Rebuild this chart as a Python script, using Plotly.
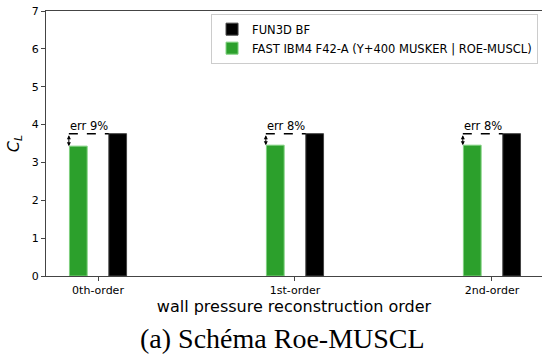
import plotly.graph_objects as go

# données
orders = ['0th-order', '1st-order', '2nd-order']
cl_fun3d = [3.76, 3.76, 3.76]
cl_fast = [3.43, 3.455, 3.455]

name_fun3d = 'FUN3D BF'
name_fast = 'FAST IBM4 F42-A (Y+400 MUSKER | ROE-MUSCL)'

pos = list(range(len(orders)))
w = 0.09

fig = go.Figure()
fig.add_trace(go.Bar(x=pos, y=cl_fun3d, name=name_fun3d, width=w, offset=0.055,
                     marker=dict(color='black', line=dict(color='#444444', width=1))))
fig.add_trace(go.Bar(x=pos, y=cl_fast, name=name_fast, width=w, offset=-0.145,
                     marker=dict(color='#2ca02c', line=dict(color='#7fd07f', width=1))))

for i in pos:
    xl = i - 0.148
    # ligne pointillée au niveau de FUN3D
    fig.add_shape(type='line', x0=xl, x1=i + 0.055, y0=cl_fun3d[i], y1=cl_fun3d[i],
                  line=dict(color='black', width=1.5, dash='dash'))
    # flèche double
    fig.add_annotation(x=xl, y=cl_fast[i], ax=xl, ay=cl_fun3d[i], axref='x', ayref='y',
                       showarrow=True, arrowhead=2, arrowside='end+start', arrowsize=0.8,
                       arrowwidth=1, arrowcolor='black', text='')
    err = round((cl_fun3d[i] - cl_fast[i]) / cl_fun3d[i] * 100)
    fig.add_annotation(x=xl, y=cl_fun3d[i], text='err %d%%' % err, showarrow=False,
                       xanchor='left', yanchor='bottom', yshift=-1, xshift=-1,
                       font=dict(size=11.5, color='black'))

fig.add_annotation(x=0.476, y=-0.236, xref='paper', yref='paper', showarrow=False,
                   text='(a) Schéma Roe-MUSCL', yanchor='middle',
                   font=dict(family='Liberation Serif', size=28, color='black'))

fig.update_layout(
    width=542, height=356,
    margin=dict(l=46, r=0, t=11, b=80, autoexpand=False),
    plot_bgcolor='white', paper_bgcolor='white',
    font=dict(family='DejaVu Sans', color='black'),
    barmode='overlay',
    showlegend=True,
    legend=dict(x=0.992, y=0.99, xanchor='right', yanchor='top',
                bordercolor='#cccccc', borderwidth=1, bgcolor='white',
                font=dict(size=11.5), traceorder='normal',
                tracegroupgap=0, itemwidth=30),
    xaxis=dict(range=[-0.264, 2.254], tickvals=pos, ticktext=orders, automargin=False,
               showgrid=False, zeroline=False, showline=True, linecolor='#444444',
               linewidth=1, mirror=True, ticks='outside', ticklen=4, tickcolor='#444444',
               tickfont=dict(size=11),
               title=dict(text='wall pressure reconstruction order', font=dict(size=16),
                          standoff=3)),
    yaxis=dict(range=[0, 7], dtick=1, showgrid=False, zeroline=False, showline=True,
               automargin=False, ticklabeloverflow='allow',
               linecolor='#444444', linewidth=1, ticks='outside', ticklen=4,
               tickcolor='#444444', tickfont=dict(size=11),
               title=dict(text='<i>C</i><sub><i>L</i></sub>', font=dict(size=16),
                          standoff=8)),
)

# pas de marge de page autour de la figure
fig.write_html('out.html', config={'displayModeBar': False},
               post_script="document.body.style.margin='0';")
